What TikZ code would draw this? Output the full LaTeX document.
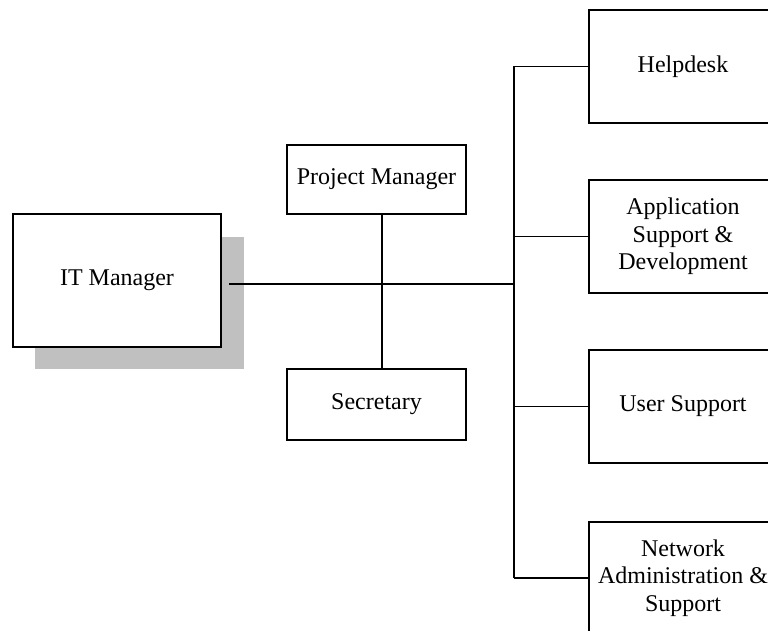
\documentclass[tikz,border=0pt]{standalone}
\usepackage{fontspec}
\setmainfont{Liberation Serif}
\begin{document}
\begin{tikzpicture}[x=1pt,y=-1pt,
  orgbox/.style={draw=black,line width=2pt,fill=white,inner sep=0pt,align=center,
    font=\fontsize{24}{27.5}\selectfont},
  conn/.style={draw=black,line width=1.7pt}]
\useasboundingbox (0,0) rectangle (768,631);
\clip (0,0) rectangle (768,631);
% shadow
\fill[fill={rgb,255:red,192;green,192;blue,192}] (35,237) rectangle (244,369);
% boxes
\node[orgbox,minimum width=208pt,minimum height=133pt] (it) at (117,280.5) {IT Manager};
\node[orgbox,minimum width=179pt,minimum height=69pt] (pm) at (376.5,179.5) {Project Manager};
\node[orgbox,minimum width=179pt,minimum height=71pt] (sec) at (376.5,404.5) {Secretary};
\node[orgbox,minimum width=188pt,minimum height=113pt] (help) at (683,66.5) {Helpdesk};
\node[orgbox,minimum width=188pt,minimum height=113pt] (app) at (683,236.5) {Application\\Support \&\\Development};
\node[orgbox,minimum width=188pt,minimum height=113pt] (user) at (683,406.5) {User Support};
\node[orgbox,minimum width=188pt,minimum height=113pt] (net) at (683,578) {Network\\Administration \&\\Support};
% coordinates
\coordinate (start) at (229,284);
\coordinate (v) at (382,284);
\coordinate (trunk) at (514,284);
% connectors
\draw[conn] (start) -- (trunk);
\draw[conn] (v |- pm.south) -- (v |- sec.north);
\draw[conn] (trunk |- help.west) -- (trunk |- net.west);
\draw[conn] (trunk |- help.west) -- (help.west);
\draw[conn] (trunk |- app.west) -- (app.west);
\draw[conn] (trunk |- user.west) -- (user.west);
\draw[conn] (trunk |- net.west) -- (net.west);
\end{tikzpicture}
\end{document}
